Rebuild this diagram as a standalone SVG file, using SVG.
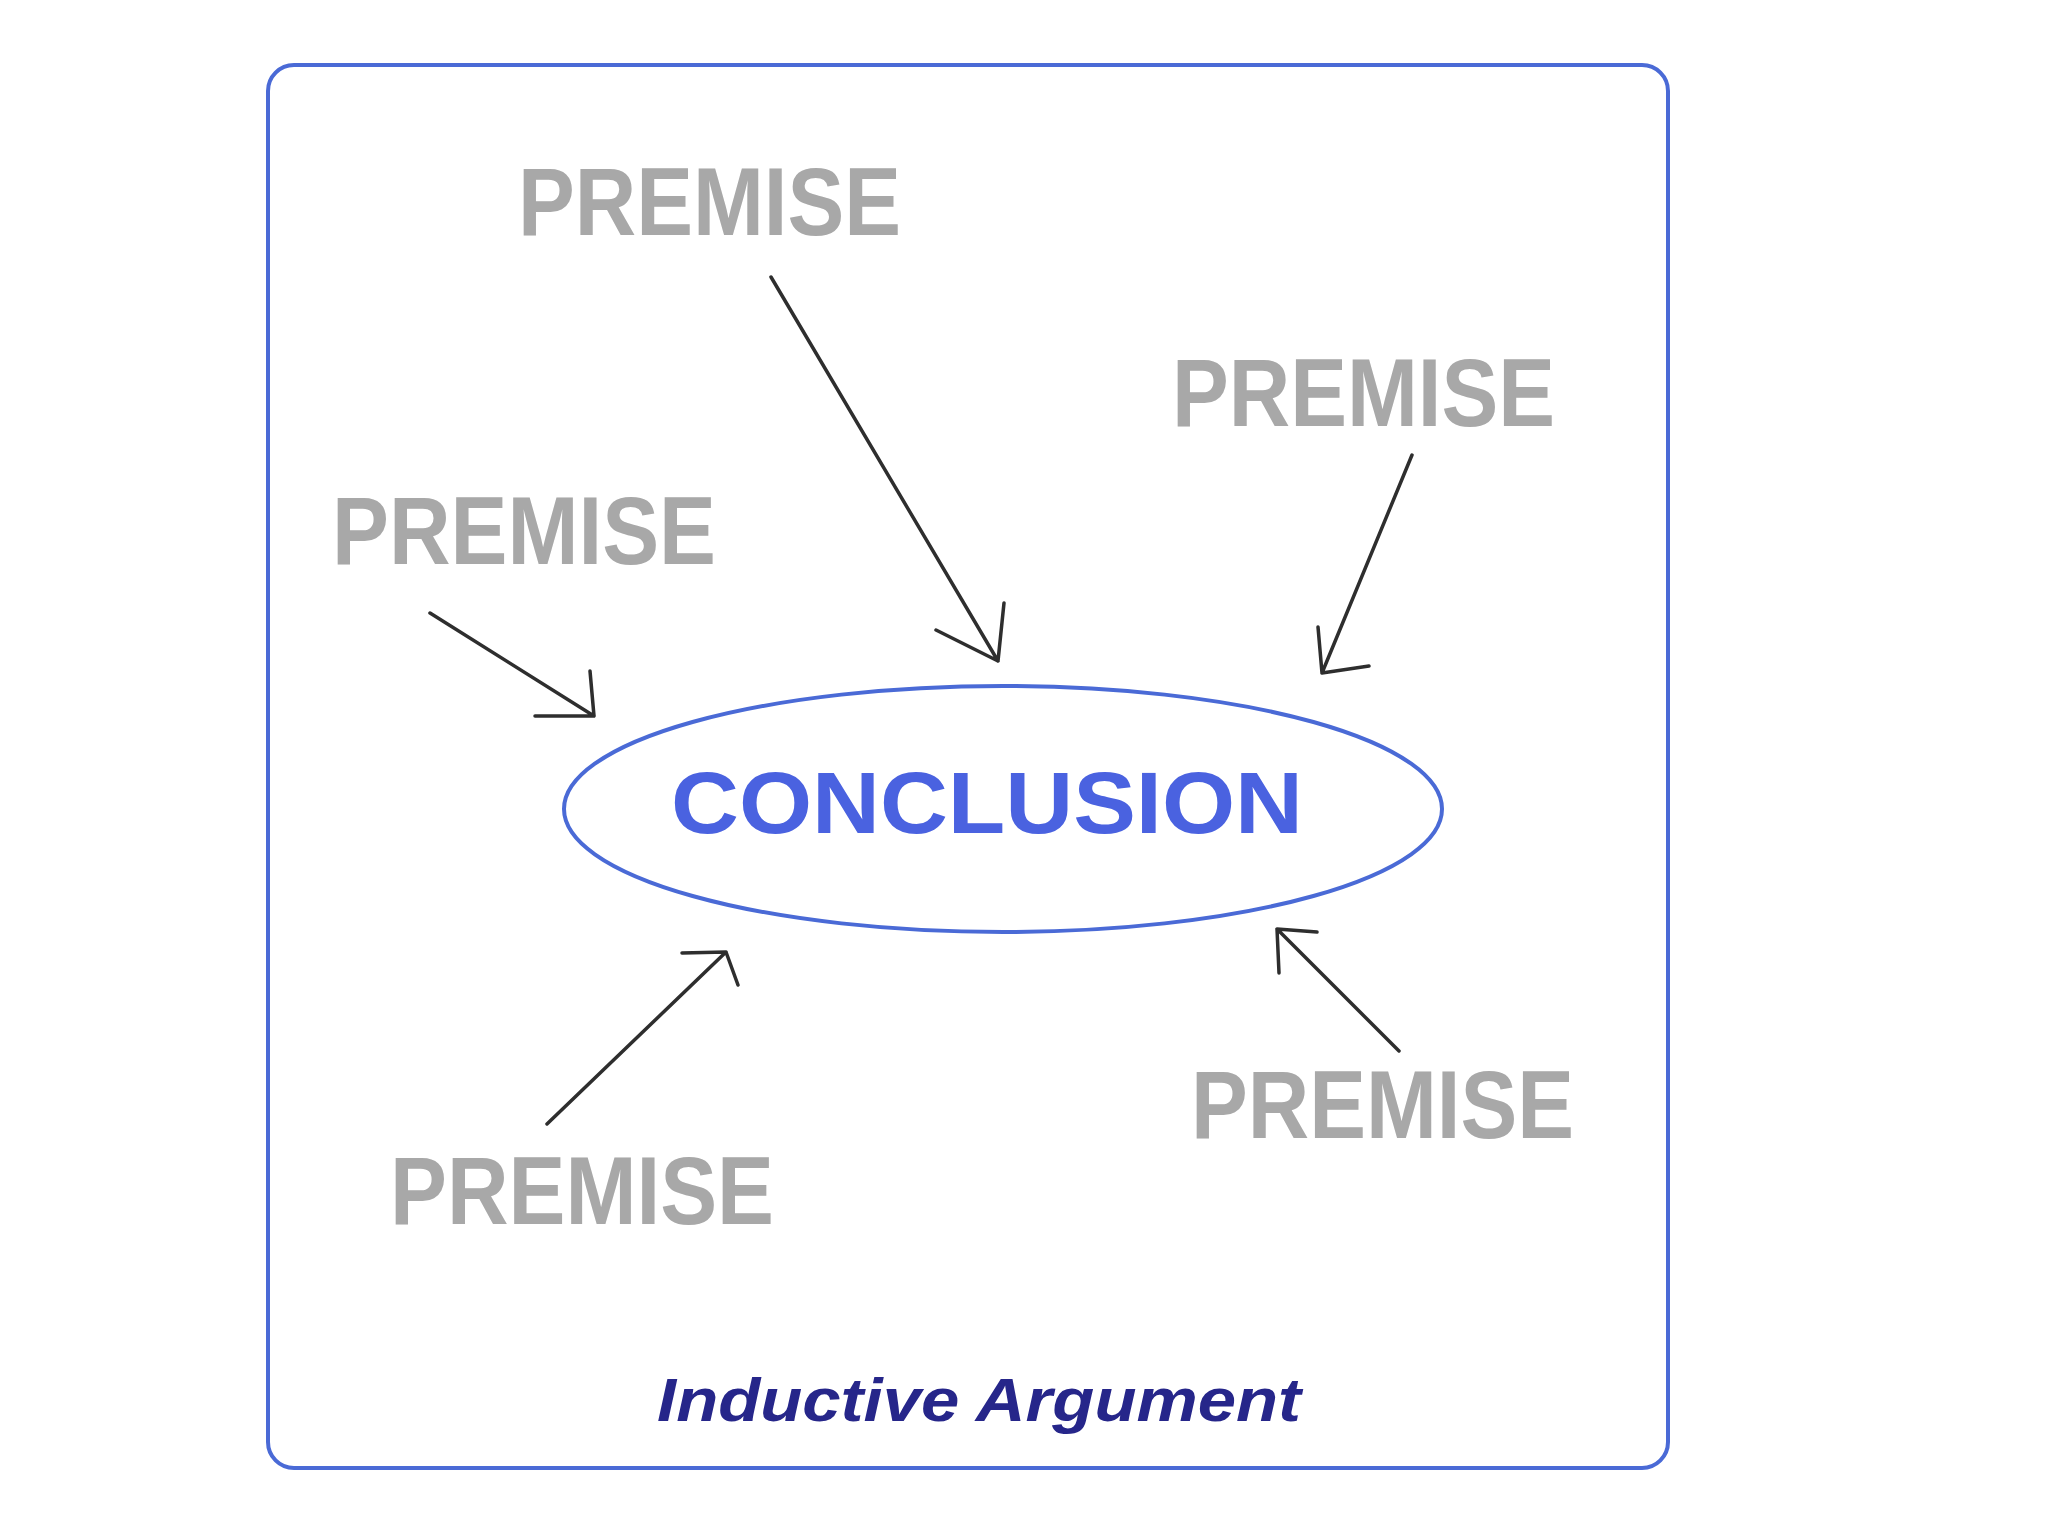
<svg xmlns="http://www.w3.org/2000/svg" width="2048" height="1536" viewBox="0 0 2048 1536">
<style>
.premise{font-family:"Liberation Sans",Arial,sans-serif;font-weight:bold;font-size:96px;fill:#a8a8a8}
.concl{font-family:"Liberation Sans",Arial,sans-serif;font-weight:bold;font-size:87px;fill:#4a62e0}
.title{font-family:"Liberation Sans",Arial,sans-serif;font-weight:bold;font-style:italic;font-size:62px;fill:#26268a}
.arrow{fill:none;stroke:#2e2e2e;stroke-width:3.5;stroke-linecap:round;stroke-linejoin:round}
.blue{fill:none;stroke:#4a6ad6;stroke-width:4}
</style>
<rect width="2048" height="1536" fill="#ffffff"/>
<rect id="frame" class="blue" x="268" y="65" width="1400" height="1403" rx="26" ry="26"/>
<g id="conclusion">
<ellipse class="blue" cx="1003" cy="809" rx="439" ry="123"/>
<text class="concl" x="671" y="833" textLength="632" lengthAdjust="spacingAndGlyphs">CONCLUSION</text>
</g>
<g id="premise-top"><text class="premise" x="518" y="235" textLength="383" lengthAdjust="spacingAndGlyphs">PREMISE</text></g>
<g id="premise-right-top"><text class="premise" x="1172" y="426" textLength="383" lengthAdjust="spacingAndGlyphs">PREMISE</text></g>
<g id="premise-left"><text class="premise" x="332" y="564" textLength="384" lengthAdjust="spacingAndGlyphs">PREMISE</text></g>
<g id="premise-right-bottom"><text class="premise" x="1191" y="1138" textLength="383" lengthAdjust="spacingAndGlyphs">PREMISE</text></g>
<g id="premise-bottom-left"><text class="premise" x="390" y="1224" textLength="384" lengthAdjust="spacingAndGlyphs">PREMISE</text></g>
<g id="caption"><text class="title" x="657" y="1421" textLength="644" lengthAdjust="spacingAndGlyphs">Inductive Argument</text></g>
<g id="connectors">
<path class="arrow" d="M771,277 L998,661 M936,630 L998,661 L1004,603"/>
<path class="arrow" d="M1412,455 L1322,673 M1318,627 L1322,673 L1369,666"/>
<path class="arrow" d="M430,613 L594,716 M590,671 L594,716 L535,716"/>
<path class="arrow" d="M547,1124 L726,952 M682,953 L726,952 L738,985"/>
<path class="arrow" d="M1399,1051 L1277,929 M1317,932 L1277,929 L1279,973"/>
</g>
</svg>
